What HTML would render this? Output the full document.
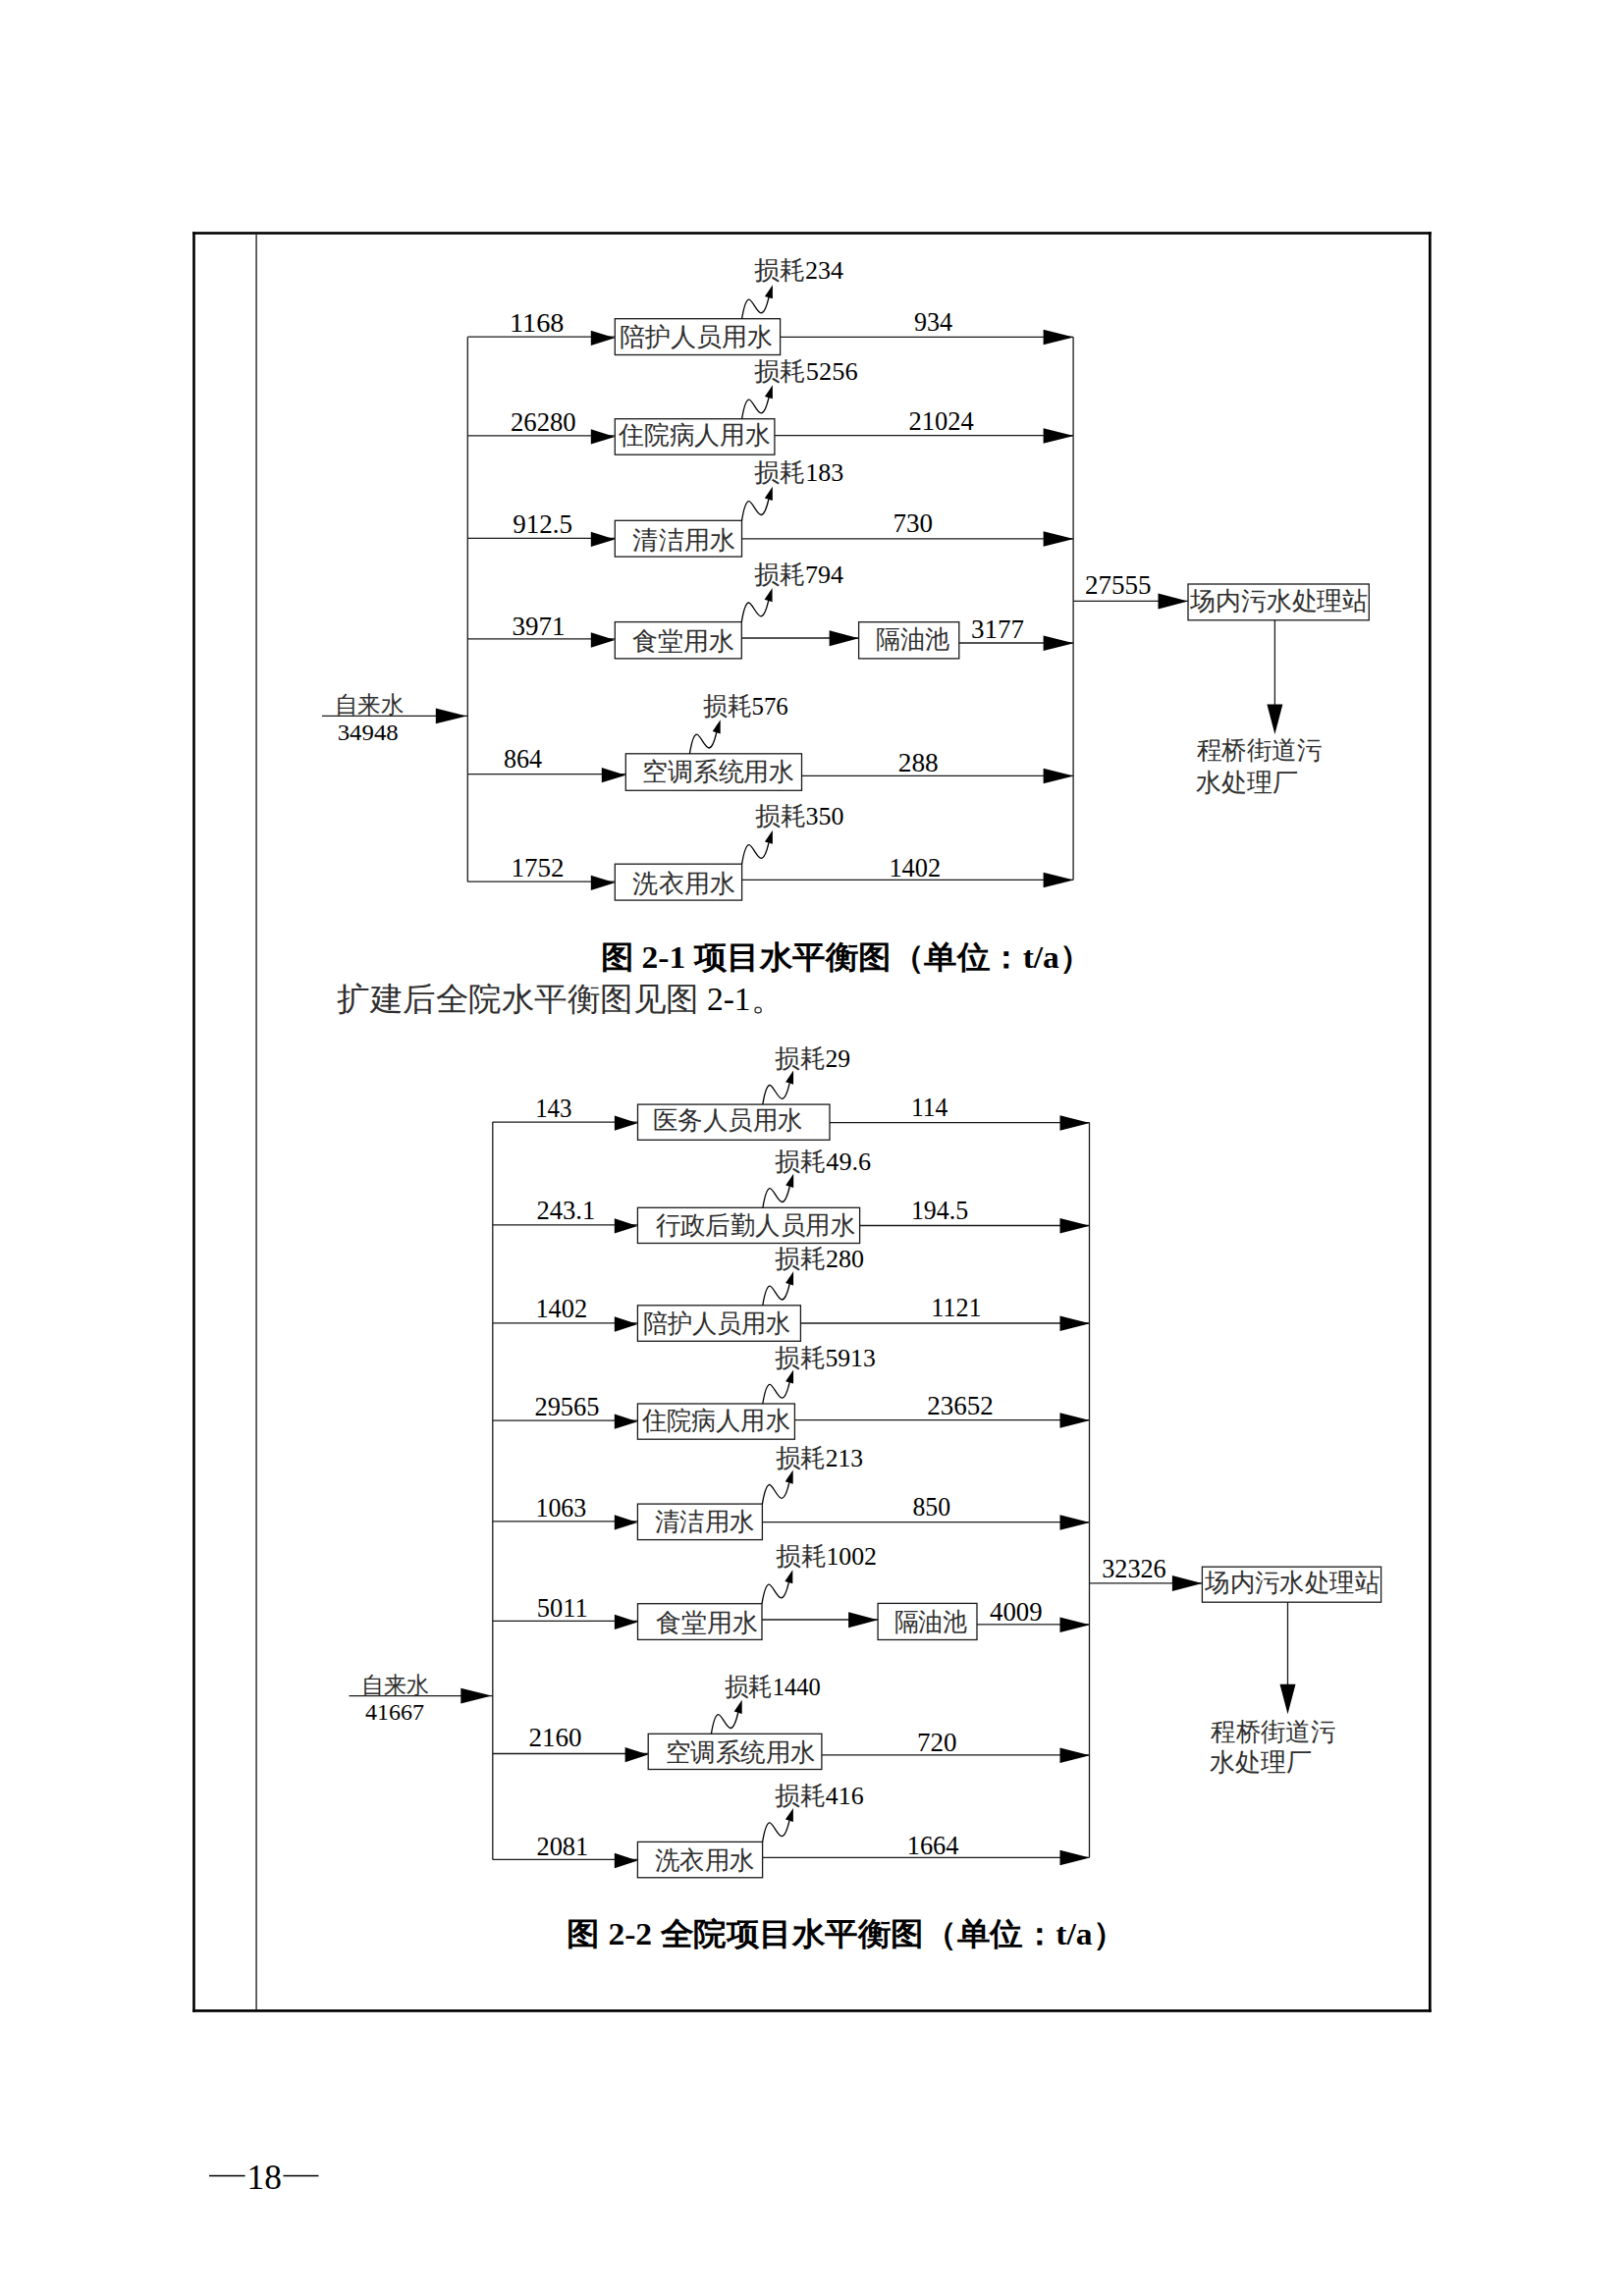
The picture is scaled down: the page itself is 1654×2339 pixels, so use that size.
<!DOCTYPE html>
<html><head><meta charset="utf-8"><title>水平衡图</title>
<style>
html,body{margin:0;padding:0;background:#fff;}
svg{display:block;}
text{font-family:"Liberation Serif",serif;fill:#000;}
</style></head><body>
<svg width="1654" height="2339" viewBox="0 0 1654 2339">
<rect x="196.2" y="236.2" width="1261.5" height="2.60" fill="#000"/>
<rect x="196.2" y="2047.1" width="1261.5" height="2.70" fill="#000"/>
<rect x="196.2" y="236.2" width="2.60" height="1813.60" fill="#000"/>
<rect x="1455.0" y="236.2" width="2.70" height="1813.60" fill="#000"/>
<rect x="260.3" y="238.8" width="1.59" height="1808.3" fill="#404040"/>
<line x1="476.3" y1="343.2" x2="476.3" y2="898.2" stroke="#1a1a1a" stroke-width="1.3"/>
<line x1="476.3" y1="343.2" x2="626.3" y2="343.2" stroke="#1a1a1a" stroke-width="1.3"/>
<polygon points="626.3,344.3 601.8,336.65 601.8,351.95" fill="#000"/>
<rect x="626.3" y="324.7" width="168.30" height="36.80" fill="none" stroke="#1a1a1a" stroke-width="1.3"/>
<path d="M755.6,324.7 C757.6,312.7 760.1,305.09 762.9,305.09 C766.1,305.09 771.1,318.9 775.2,318.9 C778.80,318.9 781.2,310.7 783.0,302.9" fill="none" stroke="#000" stroke-width="1.3"/>
<polygon points="786.9,290.2 778.9,301.9 786.9,304.3" fill="#000"/>
<line x1="794.6" y1="343.3" x2="1093.1" y2="343.3" stroke="#1a1a1a" stroke-width="1.3"/>
<polygon points="1093.6,343.6 1062.6,335.85 1062.6,351.35" fill="#000"/>
<line x1="476.3" y1="443.8" x2="626.3" y2="443.8" stroke="#1a1a1a" stroke-width="1.3"/>
<polygon points="626.3,444.90 601.8,437.25 601.8,452.55" fill="#000"/>
<rect x="626.3" y="426.7" width="162.60" height="36.5" fill="none" stroke="#1a1a1a" stroke-width="1.3"/>
<path d="M755.6,426.7 C757.6,414.7 760.1,407.09 762.9,407.09 C766.1,407.09 771.1,420.9 775.2,420.9 C778.80,420.9 781.2,412.7 783.0,404.9" fill="none" stroke="#000" stroke-width="1.3"/>
<polygon points="786.9,392.2 778.9,403.9 786.9,406.3" fill="#000"/>
<line x1="788.9" y1="443.6" x2="1093.1" y2="443.6" stroke="#1a1a1a" stroke-width="1.3"/>
<polygon points="1093.6,443.90 1062.6,436.15 1062.6,451.65" fill="#000"/>
<line x1="476.3" y1="548.3" x2="626.3" y2="548.3" stroke="#1a1a1a" stroke-width="1.3"/>
<polygon points="626.3,549.4 601.8,541.75 601.8,557.05" fill="#000"/>
<rect x="626.3" y="530.3" width="129.20" height="36.80" fill="none" stroke="#1a1a1a" stroke-width="1.3"/>
<path d="M755.5,530.3 C757.5,518.3 760.0,510.69 762.8,510.69 C766.0,510.69 771.0,524.5 775.1,524.5 C778.7,524.5 781.1,516.3 782.9,508.49" fill="none" stroke="#000" stroke-width="1.3"/>
<polygon points="786.8,495.79 778.8,507.49 786.8,509.9" fill="#000"/>
<line x1="755.5" y1="548.8" x2="1093.1" y2="548.8" stroke="#1a1a1a" stroke-width="1.3"/>
<polygon points="1093.6,549.09 1062.6,541.34 1062.6,556.84" fill="#000"/>
<line x1="476.3" y1="650.9" x2="626.3" y2="650.9" stroke="#1a1a1a" stroke-width="1.3"/>
<polygon points="626.3,652.0 601.8,644.35 601.8,659.65" fill="#000"/>
<rect x="626.3" y="633.6" width="129.0" height="37.29" fill="none" stroke="#1a1a1a" stroke-width="1.3"/>
<path d="M755.3,633.6 C757.3,621.6 759.8,614.0 762.59,614.0 C765.8,614.0 770.8,627.80 774.9,627.80 C778.5,627.80 780.9,619.6 782.69,611.80" fill="none" stroke="#000" stroke-width="1.3"/>
<polygon points="786.59,599.1 778.59,610.80 786.59,613.2" fill="#000"/>
<line x1="755.3" y1="650" x2="874.6" y2="650" stroke="#1a1a1a" stroke-width="1.3"/>
<polygon points="874.6,650.3 844.6,642.3 844.6,658.3" fill="#000"/>
<rect x="874.6" y="633.7" width="102.19" height="37.19" fill="none" stroke="#1a1a1a" stroke-width="1.3"/>
<line x1="976.8" y1="655" x2="1093.1" y2="655" stroke="#1a1a1a" stroke-width="1.3"/>
<polygon points="1093.6,655.3 1062.6,647.55 1062.6,663.05" fill="#000"/>
<line x1="476.3" y1="788.6" x2="637.3" y2="788.6" stroke="#1a1a1a" stroke-width="1.3"/>
<polygon points="637.3,789.7 612.8,782.05 612.8,797.35" fill="#000"/>
<rect x="637.3" y="767.8" width="179.20" height="37.5" fill="none" stroke="#1a1a1a" stroke-width="1.3"/>
<path d="M702.4,767.8 C704.4,755.8 706.9,748.19 709.69,748.19 C712.9,748.19 717.9,762.0 722.0,762.0 C725.6,762.0 728.0,753.8 729.8,746.0" fill="none" stroke="#000" stroke-width="1.3"/>
<polygon points="733.69,733.3 725.69,745.0 733.69,747.4" fill="#000"/>
<line x1="816.5" y1="790.3" x2="1093.1" y2="790.3" stroke="#1a1a1a" stroke-width="1.3"/>
<polygon points="1093.6,790.59 1062.6,782.84 1062.6,798.34" fill="#000"/>
<line x1="476.3" y1="898.2" x2="626.3" y2="898.2" stroke="#1a1a1a" stroke-width="1.3"/>
<polygon points="626.3,899.30 601.8,891.65 601.8,906.95" fill="#000"/>
<rect x="626.3" y="880.2" width="129.30" height="36.89" fill="none" stroke="#1a1a1a" stroke-width="1.3"/>
<path d="M755.6,880.2 C757.6,868.2 760.1,860.6 762.9,860.6 C766.1,860.6 771.1,874.40 775.2,874.40 C778.80,874.40 781.2,866.2 783.0,858.40" fill="none" stroke="#000" stroke-width="1.3"/>
<polygon points="786.9,845.7 778.9,857.40 786.9,859.80" fill="#000"/>
<line x1="755.6" y1="896.3" x2="1093.1" y2="896.3" stroke="#1a1a1a" stroke-width="1.3"/>
<polygon points="1093.6,896.59 1062.6,888.84 1062.6,904.34" fill="#000"/>
<line x1="1093.1" y1="343.3" x2="1093.1" y2="896.3" stroke="#1a1a1a" stroke-width="1.3"/>
<line x1="328" y1="729.4" x2="476.3" y2="729.4" stroke="#1a1a1a" stroke-width="1.3"/>
<polygon points="475.3,729.4 443.8,721.55 443.8,737.25" fill="#000"/>
<line x1="1093.1" y1="612.3" x2="1210" y2="612.3" stroke="#1a1a1a" stroke-width="1.3"/>
<polygon points="1210,612.59 1179.5,604.59 1179.5,620.59" fill="#000"/>
<rect x="1210" y="595" width="184.29" height="36.79" fill="none" stroke="#1a1a1a" stroke-width="1.3"/>
<line x1="1298.4" y1="631.8" x2="1298.4" y2="743" stroke="#1a1a1a" stroke-width="1.3"/>
<polygon points="1298.4,748 1290.4,717.5 1306.4,717.5" fill="#000"/>
<line x1="501.8" y1="1143.1" x2="501.8" y2="1894.4" stroke="#1a1a1a" stroke-width="1.3"/>
<line x1="501.8" y1="1143.1" x2="649.5" y2="1143.1" stroke="#1a1a1a" stroke-width="1.3"/>
<polygon points="649.5,1144.19 625.9,1136.54 625.9,1151.85" fill="#000"/>
<rect x="649.5" y="1125.1" width="195.5" height="36.20" fill="none" stroke="#1a1a1a" stroke-width="1.3"/>
<path d="M776.8,1125.1 C778.8,1113.1 781.3,1105.5 784.09,1105.5 C787.3,1105.5 792.3,1119.3 796.4,1119.3 C800.0,1119.3 802.4,1111.1 804.19,1103.3" fill="none" stroke="#000" stroke-width="1.3"/>
<polygon points="808.09,1090.6 800.09,1102.3 808.09,1104.69" fill="#000"/>
<line x1="845" y1="1143.6" x2="1109.5" y2="1143.6" stroke="#1a1a1a" stroke-width="1.3"/>
<polygon points="1110.0,1143.89 1079.5,1136.14 1079.5,1151.64" fill="#000"/>
<line x1="501.8" y1="1247.8" x2="649.4" y2="1247.8" stroke="#1a1a1a" stroke-width="1.3"/>
<polygon points="649.4,1248.89 625.8,1241.24 625.8,1256.55" fill="#000"/>
<rect x="649.4" y="1230.3" width="226.20" height="36.20" fill="none" stroke="#1a1a1a" stroke-width="1.3"/>
<path d="M776.9,1230.3 C778.9,1218.3 781.4,1210.7 784.19,1210.7 C787.4,1210.7 792.4,1224.5 796.5,1224.5 C800.1,1224.5 802.5,1216.3 804.3,1208.5" fill="none" stroke="#000" stroke-width="1.3"/>
<polygon points="808.19,1195.8 800.19,1207.5 808.19,1209.89" fill="#000"/>
<line x1="875.6" y1="1248.5" x2="1109.5" y2="1248.5" stroke="#1a1a1a" stroke-width="1.3"/>
<polygon points="1110.0,1248.8 1079.5,1241.05 1079.5,1256.55" fill="#000"/>
<line x1="501.8" y1="1347.9" x2="649.4" y2="1347.9" stroke="#1a1a1a" stroke-width="1.3"/>
<polygon points="649.4,1349.0 625.8,1341.35 625.8,1356.65" fill="#000"/>
<rect x="649.4" y="1329.8" width="166.0" height="36.5" fill="none" stroke="#1a1a1a" stroke-width="1.3"/>
<path d="M776.8,1329.8 C778.8,1317.8 781.3,1310.2 784.09,1310.2 C787.3,1310.2 792.3,1324.0 796.4,1324.0 C800.0,1324.0 802.4,1315.8 804.19,1308.0" fill="none" stroke="#000" stroke-width="1.3"/>
<polygon points="808.09,1295.3 800.09,1307.0 808.09,1309.39" fill="#000"/>
<line x1="815.4" y1="1348" x2="1109.5" y2="1348" stroke="#1a1a1a" stroke-width="1.3"/>
<polygon points="1110.0,1348.3 1079.5,1340.55 1079.5,1356.05" fill="#000"/>
<line x1="501.8" y1="1447.1" x2="649.4" y2="1447.1" stroke="#1a1a1a" stroke-width="1.3"/>
<polygon points="649.4,1448.19 625.8,1440.54 625.8,1455.85" fill="#000"/>
<rect x="649.4" y="1430" width="160.0" height="36.20" fill="none" stroke="#1a1a1a" stroke-width="1.3"/>
<path d="M776.8,1430 C778.8,1418 781.3,1410.4 784.09,1410.4 C787.3,1410.4 792.3,1424.2 796.4,1424.2 C800.0,1424.2 802.4,1416 804.19,1408.2" fill="none" stroke="#000" stroke-width="1.3"/>
<polygon points="808.09,1395.5 800.09,1407.2 808.09,1409.6" fill="#000"/>
<line x1="809.4" y1="1446.6" x2="1109.5" y2="1446.6" stroke="#1a1a1a" stroke-width="1.3"/>
<polygon points="1110.0,1446.89 1079.5,1439.14 1079.5,1454.64" fill="#000"/>
<line x1="501.8" y1="1549.8" x2="649.4" y2="1549.8" stroke="#1a1a1a" stroke-width="1.3"/>
<polygon points="649.4,1550.89 625.8,1543.24 625.8,1558.55" fill="#000"/>
<rect x="649.4" y="1532.1" width="127.0" height="36.5" fill="none" stroke="#1a1a1a" stroke-width="1.3"/>
<path d="M776.4,1532.1 C778.4,1520.1 780.9,1512.5 783.69,1512.5 C786.9,1512.5 791.9,1526.3 796.0,1526.3 C799.6,1526.3 802.0,1518.1 803.8,1510.3" fill="none" stroke="#000" stroke-width="1.3"/>
<polygon points="807.69,1497.6 799.69,1509.3 807.69,1511.69" fill="#000"/>
<line x1="776.4" y1="1550.7" x2="1109.5" y2="1550.7" stroke="#1a1a1a" stroke-width="1.3"/>
<polygon points="1110.0,1551.0 1079.5,1543.25 1079.5,1558.75" fill="#000"/>
<line x1="501.8" y1="1651.3" x2="649.5" y2="1651.3" stroke="#1a1a1a" stroke-width="1.3"/>
<polygon points="649.5,1652.39 625.9,1644.74 625.9,1660.05" fill="#000"/>
<rect x="649.5" y="1633.7" width="126.5" height="36.70" fill="none" stroke="#1a1a1a" stroke-width="1.3"/>
<path d="M776,1633.7 C778,1621.7 780.5,1614.10 783.3,1614.10 C786.5,1614.10 791.5,1627.9 795.6,1627.9 C799.2,1627.9 801.6,1619.7 803.4,1611.9" fill="none" stroke="#000" stroke-width="1.3"/>
<polygon points="807.3,1599.2 799.3,1610.9 807.3,1613.3" fill="#000"/>
<line x1="776" y1="1650" x2="894.1" y2="1650" stroke="#1a1a1a" stroke-width="1.3"/>
<polygon points="894.1,1650.3 864.1,1642.3 864.1,1658.3" fill="#000"/>
<rect x="894.1" y="1633.4" width="100.89" height="37.09" fill="none" stroke="#1a1a1a" stroke-width="1.3"/>
<line x1="995" y1="1654.9" x2="1109.5" y2="1654.9" stroke="#1a1a1a" stroke-width="1.3"/>
<polygon points="1110.0,1655.2 1079.5,1647.45 1079.5,1662.95" fill="#000"/>
<line x1="501.8" y1="1786.5" x2="660.2" y2="1786.5" stroke="#1a1a1a" stroke-width="1.3"/>
<polygon points="660.2,1787.6 636.6,1779.94 636.6,1795.25" fill="#000"/>
<rect x="660.2" y="1766.3" width="176.69" height="36.20" fill="none" stroke="#1a1a1a" stroke-width="1.3"/>
<path d="M724.4,1766.3 C726.4,1754.3 728.9,1746.7 731.69,1746.7 C734.9,1746.7 739.9,1760.5 744.0,1760.5 C747.6,1760.5 750.0,1752.3 751.8,1744.5" fill="none" stroke="#000" stroke-width="1.3"/>
<polygon points="755.69,1731.8 747.69,1743.5 755.69,1745.89" fill="#000"/>
<line x1="836.9" y1="1787.9" x2="1109.5" y2="1787.9" stroke="#1a1a1a" stroke-width="1.3"/>
<polygon points="1110.0,1788.2 1079.5,1780.45 1079.5,1795.95" fill="#000"/>
<line x1="501.8" y1="1894.4" x2="649.4" y2="1894.4" stroke="#1a1a1a" stroke-width="1.3"/>
<polygon points="649.4,1895.5 625.8,1887.85 625.8,1903.15" fill="#000"/>
<rect x="649.4" y="1876.4" width="127.20" height="36.39" fill="none" stroke="#1a1a1a" stroke-width="1.3"/>
<path d="M776.6,1876.4 C778.6,1864.4 781.1,1856.80 783.9,1856.80 C787.1,1856.80 792.1,1870.60 796.2,1870.60 C799.80,1870.60 802.2,1862.4 804.0,1854.60" fill="none" stroke="#000" stroke-width="1.3"/>
<polygon points="807.9,1841.9 799.9,1853.60 807.9,1856.0" fill="#000"/>
<line x1="776.6" y1="1892.3" x2="1109.5" y2="1892.3" stroke="#1a1a1a" stroke-width="1.3"/>
<polygon points="1110.0,1892.6 1079.5,1884.85 1079.5,1900.35" fill="#000"/>
<line x1="1109.5" y1="1143.6" x2="1109.5" y2="1892.3" stroke="#1a1a1a" stroke-width="1.3"/>
<line x1="355.5" y1="1727.6" x2="501.8" y2="1727.6" stroke="#1a1a1a" stroke-width="1.3"/>
<polygon points="500.8,1727.6 469.3,1719.75 469.3,1735.44" fill="#000"/>
<line x1="1109.5" y1="1612.8" x2="1224.4" y2="1612.8" stroke="#1a1a1a" stroke-width="1.3"/>
<polygon points="1224.4,1613.1 1193.9,1605.1 1193.9,1621.1" fill="#000"/>
<rect x="1224.4" y="1596.2" width="182.19" height="36.0" fill="none" stroke="#1a1a1a" stroke-width="1.3"/>
<line x1="1311.5" y1="1632.2" x2="1311.5" y2="1741.3" stroke="#1a1a1a" stroke-width="1.3"/>
<polygon points="1311.5,1746.3 1303.5,1715.8 1319.5,1715.8" fill="#000"/>
<rect x="213" y="2215.8" width="36.59" height="1.5" fill="#000"/>
<rect x="288.5" y="2215.8" width="36.0" height="1.5" fill="#000"/>
<text x="518.96" y="338.00" font-size="27" font-weight="400" textLength="55.56" lengthAdjust="spacingAndGlyphs">1168</text>
<text x="519.96" y="438.50" font-size="27" font-weight="400" textLength="66.70" lengthAdjust="spacingAndGlyphs">26280</text>
<text x="522.18" y="543.00" font-size="27" font-weight="400" textLength="60.75" lengthAdjust="spacingAndGlyphs">912.5</text>
<text x="521.48" y="646.60" font-size="27" font-weight="400" textLength="54.00" lengthAdjust="spacingAndGlyphs">3971</text>
<text x="512.96" y="782.00" font-size="27" font-weight="400" textLength="39.06" lengthAdjust="spacingAndGlyphs">864</text>
<text x="520.44" y="893.00" font-size="27" font-weight="400" textLength="54.00" lengthAdjust="spacingAndGlyphs">1752</text>
<text x="930.94" y="336.60" font-size="27" font-weight="400" textLength="39.06" lengthAdjust="spacingAndGlyphs">934</text>
<text x="925.44" y="438.00" font-size="27" font-weight="400" textLength="66.38" lengthAdjust="spacingAndGlyphs">21024</text>
<text x="909.38" y="542.40" font-size="27" font-weight="400" textLength="40.50" lengthAdjust="spacingAndGlyphs">730</text>
<text x="988.96" y="649.80" font-size="27" font-weight="400" textLength="54.00" lengthAdjust="spacingAndGlyphs">3177</text>
<text x="914.72" y="785.50" font-size="27" font-weight="400" textLength="40.98" lengthAdjust="spacingAndGlyphs">288</text>
<text x="905.44" y="892.60" font-size="27" font-weight="400" textLength="52.72" lengthAdjust="spacingAndGlyphs">1402</text>
<text x="1104.96" y="605.30" font-size="27" font-weight="400" textLength="67.50" lengthAdjust="spacingAndGlyphs">27555</text>
<text x="340.74" y="725.55" font-size="24" font-weight="400" textLength="70.48" lengthAdjust="spacingAndGlyphs"><tspan fill="#2e2e2e">自来水</tspan></text>
<text x="343.74" y="753.60" font-size="24" font-weight="400" textLength="61.92" lengthAdjust="spacingAndGlyphs">34948</text>
<text x="631.26" y="352.20" font-size="26" font-weight="400" textLength="156.00" lengthAdjust="spacingAndGlyphs"><tspan fill="#2e2e2e">陪护人员用水</tspan></text>
<text x="630.00" y="452.40" font-size="26" font-weight="400" textLength="154.96" lengthAdjust="spacingAndGlyphs"><tspan fill="#2e2e2e">住院病人用水</tspan></text>
<text x="644.48" y="558.60" font-size="26" font-weight="400" textLength="104.32" lengthAdjust="spacingAndGlyphs"><tspan fill="#2e2e2e">清洁用水</tspan></text>
<text x="643.52" y="661.65" font-size="26" font-weight="400" textLength="104.00" lengthAdjust="spacingAndGlyphs"><tspan fill="#2e2e2e">食堂用水</tspan></text>
<text x="892.00" y="659.75" font-size="26" font-weight="400" textLength="75.12" lengthAdjust="spacingAndGlyphs"><tspan fill="#2e2e2e">隔油池</tspan></text>
<text x="653.80" y="795.35" font-size="26" font-weight="400" textLength="155.52" lengthAdjust="spacingAndGlyphs"><tspan fill="#2e2e2e">空调系统用水</tspan></text>
<text x="644.48" y="908.60" font-size="26" font-weight="400" textLength="104.32" lengthAdjust="spacingAndGlyphs"><tspan fill="#2e2e2e">洗衣用水</tspan></text>
<text x="1212.00" y="620.55" font-size="26" font-weight="400" textLength="181.20" lengthAdjust="spacingAndGlyphs"><tspan fill="#2e2e2e">场内污水处理站</tspan></text>
<text x="1218.76" y="773.25" font-size="26" font-weight="400" textLength="127.60" lengthAdjust="spacingAndGlyphs"><tspan fill="#2e2e2e">程桥街道污</tspan></text>
<text x="1217.76" y="806.25" font-size="26" font-weight="400" textLength="104.00" lengthAdjust="spacingAndGlyphs"><tspan fill="#2e2e2e">水处理厂</tspan></text>
<text x="768.00" y="284.00" font-size="26" font-weight="400" textLength="91.00" lengthAdjust="spacingAndGlyphs"><tspan fill="#2e2e2e">损耗</tspan>234</text>
<text x="768.00" y="387.00" font-size="26" font-weight="400" textLength="105.60" lengthAdjust="spacingAndGlyphs"><tspan fill="#2e2e2e">损耗</tspan>5256</text>
<text x="768.24" y="490.00" font-size="26" font-weight="400" textLength="91.00" lengthAdjust="spacingAndGlyphs"><tspan fill="#2e2e2e">损耗</tspan>183</text>
<text x="768.00" y="593.50" font-size="26" font-weight="400" textLength="91.00" lengthAdjust="spacingAndGlyphs"><tspan fill="#2e2e2e">损耗</tspan>794</text>
<text x="715.74" y="728.35" font-size="26" font-weight="400" textLength="87.00" lengthAdjust="spacingAndGlyphs"><tspan fill="#2e2e2e">损耗</tspan>576</text>
<text x="768.52" y="840.35" font-size="26" font-weight="400" textLength="91.00" lengthAdjust="spacingAndGlyphs"><tspan fill="#2e2e2e">损耗</tspan>350</text>
<text x="611.76" y="986.35" font-size="32" font-weight="700" textLength="500.60" lengthAdjust="spacingAndGlyphs">图 2-1 项目水平衡图（单位：t/a）</text>
<text x="343.06" y="1028.60" font-size="33" font-weight="400" textLength="455.05" lengthAdjust="spacingAndGlyphs"><tspan fill="#2e2e2e">扩建后全院水平衡图见图</tspan> 2-1<tspan fill="#2e2e2e">。</tspan></text>
<text x="251.50" y="2230.40" font-size="36" font-weight="400" textLength="35.28" lengthAdjust="spacingAndGlyphs">18</text>
<text x="545.20" y="1137.80" font-size="27" font-weight="400" textLength="37.30" lengthAdjust="spacingAndGlyphs">143</text>
<text x="546.48" y="1242.40" font-size="27" font-weight="400" textLength="59.79" lengthAdjust="spacingAndGlyphs">243.1</text>
<text x="545.44" y="1342.40" font-size="27" font-weight="400" textLength="52.72" lengthAdjust="spacingAndGlyphs">1402</text>
<text x="544.44" y="1441.70" font-size="27" font-weight="400" textLength="65.98" lengthAdjust="spacingAndGlyphs">29565</text>
<text x="545.44" y="1544.70" font-size="27" font-weight="400" textLength="51.76" lengthAdjust="spacingAndGlyphs">1063</text>
<text x="546.74" y="1646.70" font-size="27" font-weight="400" textLength="51.88" lengthAdjust="spacingAndGlyphs">5011</text>
<text x="538.46" y="1779.40" font-size="27" font-weight="400" textLength="54.00" lengthAdjust="spacingAndGlyphs">2160</text>
<text x="546.48" y="1890.00" font-size="27" font-weight="400" textLength="52.80" lengthAdjust="spacingAndGlyphs">2081</text>
<text x="927.92" y="1136.70" font-size="27" font-weight="400" textLength="37.26" lengthAdjust="spacingAndGlyphs">114</text>
<text x="927.92" y="1241.70" font-size="27" font-weight="400" textLength="58.19" lengthAdjust="spacingAndGlyphs">194.5</text>
<text x="948.20" y="1341.40" font-size="27" font-weight="400" textLength="51.48" lengthAdjust="spacingAndGlyphs">1121</text>
<text x="944.20" y="1441.00" font-size="27" font-weight="400" textLength="67.50" lengthAdjust="spacingAndGlyphs">23652</text>
<text x="929.44" y="1544.20" font-size="27" font-weight="400" textLength="38.58" lengthAdjust="spacingAndGlyphs">850</text>
<text x="1008.02" y="1650.50" font-size="27" font-weight="400" textLength="53.60" lengthAdjust="spacingAndGlyphs">4009</text>
<text x="934.12" y="1783.60" font-size="27" font-weight="400" textLength="40.50" lengthAdjust="spacingAndGlyphs">720</text>
<text x="923.70" y="1889.00" font-size="27" font-weight="400" textLength="52.80" lengthAdjust="spacingAndGlyphs">1664</text>
<text x="1122.20" y="1607.20" font-size="27" font-weight="400" textLength="65.50" lengthAdjust="spacingAndGlyphs">32326</text>
<text x="367.50" y="1725.45" font-size="24" font-weight="400" textLength="69.12" lengthAdjust="spacingAndGlyphs"><tspan fill="#2e2e2e">自来水</tspan></text>
<text x="372.02" y="1752.40" font-size="24" font-weight="400" textLength="60.00" lengthAdjust="spacingAndGlyphs">41667</text>
<text x="664.98" y="1150.45" font-size="26" font-weight="400" textLength="152.80" lengthAdjust="spacingAndGlyphs"><tspan fill="#2e2e2e">医务人员用水</tspan></text>
<text x="667.50" y="1257.00" font-size="26" font-weight="400" textLength="203.52" lengthAdjust="spacingAndGlyphs"><tspan fill="#2e2e2e">行政后勤人员用水</tspan></text>
<text x="654.52" y="1357.00" font-size="26" font-weight="400" textLength="151.12" lengthAdjust="spacingAndGlyphs"><tspan fill="#2e2e2e">陪护人员用水</tspan></text>
<text x="653.52" y="1456.40" font-size="26" font-weight="400" textLength="151.20" lengthAdjust="spacingAndGlyphs"><tspan fill="#2e2e2e">住院病人用水</tspan></text>
<text x="667.02" y="1559.30" font-size="26" font-weight="400" textLength="101.76" lengthAdjust="spacingAndGlyphs"><tspan fill="#2e2e2e">清洁用水</tspan></text>
<text x="667.76" y="1661.60" font-size="26" font-weight="400" textLength="104.00" lengthAdjust="spacingAndGlyphs"><tspan fill="#2e2e2e">食堂用水</tspan></text>
<text x="910.52" y="1660.55" font-size="26" font-weight="400" textLength="74.64" lengthAdjust="spacingAndGlyphs"><tspan fill="#2e2e2e">隔油池</tspan></text>
<text x="677.74" y="1793.70" font-size="26" font-weight="400" textLength="152.80" lengthAdjust="spacingAndGlyphs"><tspan fill="#2e2e2e">空调系统用水</tspan></text>
<text x="667.02" y="1904.20" font-size="26" font-weight="400" textLength="101.76" lengthAdjust="spacingAndGlyphs"><tspan fill="#2e2e2e">洗衣用水</tspan></text>
<text x="1227.24" y="1620.60" font-size="26" font-weight="400" textLength="177.68" lengthAdjust="spacingAndGlyphs"><tspan fill="#2e2e2e">场内污水处理站</tspan></text>
<text x="1233.26" y="1772.55" font-size="26" font-weight="400" textLength="126.80" lengthAdjust="spacingAndGlyphs"><tspan fill="#2e2e2e">程桥街道污</tspan></text>
<text x="1232.26" y="1804.45" font-size="26" font-weight="400" textLength="104.00" lengthAdjust="spacingAndGlyphs"><tspan fill="#2e2e2e">水处理厂</tspan></text>
<text x="789.02" y="1086.65" font-size="26" font-weight="400" textLength="77.04" lengthAdjust="spacingAndGlyphs"><tspan fill="#2e2e2e">损耗</tspan>29</text>
<text x="789.02" y="1191.70" font-size="26" font-weight="400" textLength="98.14" lengthAdjust="spacingAndGlyphs"><tspan fill="#2e2e2e">损耗</tspan>49.6</text>
<text x="789.02" y="1290.70" font-size="26" font-weight="400" textLength="91.00" lengthAdjust="spacingAndGlyphs"><tspan fill="#2e2e2e">损耗</tspan>280</text>
<text x="789.02" y="1392.20" font-size="26" font-weight="400" textLength="102.80" lengthAdjust="spacingAndGlyphs"><tspan fill="#2e2e2e">损耗</tspan>5913</text>
<text x="789.74" y="1493.55" font-size="26" font-weight="400" textLength="89.40" lengthAdjust="spacingAndGlyphs"><tspan fill="#2e2e2e">损耗</tspan>213</text>
<text x="789.74" y="1594.40" font-size="26" font-weight="400" textLength="103.28" lengthAdjust="spacingAndGlyphs"><tspan fill="#2e2e2e">损耗</tspan>1002</text>
<text x="737.74" y="1727.45" font-size="26" font-weight="400" textLength="97.92" lengthAdjust="spacingAndGlyphs"><tspan fill="#2e2e2e">损耗</tspan>1440</text>
<text x="789.02" y="1837.55" font-size="26" font-weight="400" textLength="90.68" lengthAdjust="spacingAndGlyphs"><tspan fill="#2e2e2e">损耗</tspan>416</text>
<text x="577.48" y="1981.30" font-size="32" font-weight="700" textLength="568.60" lengthAdjust="spacingAndGlyphs">图 2-2 全院项目水平衡图（单位：t/a）</text>
</svg>
</body></html>
